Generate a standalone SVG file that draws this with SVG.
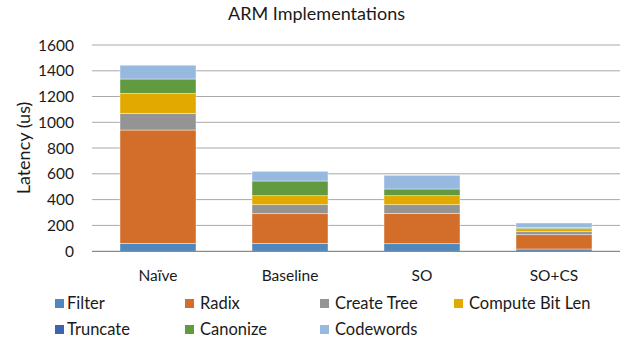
<svg xmlns="http://www.w3.org/2000/svg" width="633" height="341" viewBox="0 0 633 341">
<style>
text{font-family:Lato,"Open Sans","Liberation Sans",sans-serif;fill:#1a1a1a}
.title{font-size:18px;text-anchor:middle}
.tick{font-size:15.5px;text-anchor:end}
.cat{font-size:15.5px;text-anchor:middle}
.leg{font-size:16.5px}
.grid{stroke:#A9A9A9;stroke-width:1}
.axis{stroke:#8A8A8A;stroke-width:1.2}
rect.s{stroke:#ffffff;stroke-width:0.7;stroke-opacity:0.6}
.filter{fill:#4E88BE}
.radix{fill:#D26E2A}
.tree{fill:#949494}
.cbl{fill:#E2A900}
.trunc{fill:#3F64AD}
.canon{fill:#629A40}
.code{fill:#97B8DF}
</style>
<rect width="633" height="341" fill="#fff"/>
<text class="title" x="316.5" y="20">ARM Implementations</text>
<g id="grid">
<line class="grid" x1="92" y1="45" x2="620" y2="45"/>
<line class="grid" x1="92" y1="70.8" x2="620" y2="70.8"/>
<line class="grid" x1="92" y1="96.5" x2="620" y2="96.5"/>
<line class="grid" x1="92" y1="122.3" x2="620" y2="122.3"/>
<line class="grid" x1="92" y1="148" x2="620" y2="148"/>
<line class="grid" x1="92" y1="173.8" x2="620" y2="173.8"/>
<line class="grid" x1="92" y1="199.6" x2="620" y2="199.6"/>
<line class="grid" x1="92" y1="225.4" x2="620" y2="225.4"/>
</g>
<g id="yticks">
<text class="tick" x="74" y="50.5">1600</text>
<text class="tick" x="74" y="76.3">1400</text>
<text class="tick" x="74" y="102">1200</text>
<text class="tick" x="74" y="127.8">1000</text>
<text class="tick" x="74" y="153.5">800</text>
<text class="tick" x="74" y="179.3">600</text>
<text class="tick" x="74" y="205.1">400</text>
<text class="tick" x="74" y="230.9">200</text>
<text class="tick" x="74" y="256.8">0</text>
</g>
<text x="30" y="148" font-size="18" text-anchor="middle" transform="rotate(-90 30 148)">Latency (us)</text>
<g id="bar-naive">
<rect class="s filter" x="120" y="243.3" width="76" height="8"/>
<rect class="s radix" x="120" y="130" width="76" height="113.3"/>
<rect class="s tree" x="120" y="113.3" width="76" height="16.7"/>
<rect class="s cbl" x="120" y="93.5" width="76" height="19.8"/>
<rect class="s canon" x="120" y="79" width="76" height="14.5"/>
<rect class="s code" x="120" y="65.2" width="76" height="13.8"/>
</g>
<g id="bar-baseline">
<rect class="s filter" x="252" y="243.3" width="76" height="8"/>
<rect class="s radix" x="252" y="213.7" width="76" height="29.6"/>
<rect class="s tree" x="252" y="204.7" width="76" height="9"/>
<rect class="s cbl" x="252" y="195.7" width="76" height="9"/>
<rect class="s canon" x="252" y="181" width="76" height="14.7"/>
<rect class="s code" x="252" y="171.3" width="76" height="9.7"/>
</g>
<g id="bar-so">
<rect class="s filter" x="384" y="243.7" width="76" height="7.6"/>
<rect class="s radix" x="384" y="213.3" width="76" height="30.4"/>
<rect class="s tree" x="384" y="204.7" width="76" height="8.6"/>
<rect class="s cbl" x="384" y="195.7" width="76" height="9"/>
<rect class="s canon" x="384" y="189" width="76" height="6.7"/>
<rect class="s code" x="384" y="175.3" width="76" height="13.7"/>
</g>
<g id="bar-socs">
<rect class="s filter" x="516" y="249" width="76" height="2.3"/>
<rect class="s radix" x="516" y="234.7" width="76" height="14.3"/>
<rect class="s tree" x="516" y="231.7" width="76" height="3"/>
<rect class="s cbl" x="516" y="228.7" width="76" height="3"/>
<rect class="s canon" x="516" y="227.7" width="76" height="1"/>
<rect class="s code" x="516" y="223" width="76" height="4.7"/>
</g>
<line class="axis" x1="92" y1="251.3" x2="620" y2="251.3"/>
<g id="xlabels">
<text class="cat" x="158" y="281">Naïve</text>
<text class="cat" x="290" y="281">Baseline</text>
<text class="cat" x="422" y="281">SO</text>
<text class="cat" x="554" y="281">SO+CS</text>
</g>
<g id="legend">
<rect class="filter" x="55" y="299" width="9" height="9"/><text class="leg" x="67" y="308.5">Filter</text>
<rect class="radix" x="185" y="299" width="9" height="9"/><text class="leg" x="200" y="308.5">Radix</text>
<rect class="tree" x="320" y="299" width="9" height="9"/><text class="leg" x="335" y="308.5">Create Tree</text>
<rect class="cbl" x="454" y="299" width="9" height="9"/><text class="leg" x="469" y="308.5">Compute Bit Len</text>
<rect class="trunc" x="55" y="325" width="9" height="9"/><text class="leg" x="67" y="334.5">Truncate</text>
<rect class="canon" x="185" y="325" width="9" height="9"/><text class="leg" x="200" y="334.5">Canonize</text>
<rect class="code" x="320" y="325" width="9" height="9"/><text class="leg" x="335" y="334.5">Codewords</text>
</g>
</svg>
